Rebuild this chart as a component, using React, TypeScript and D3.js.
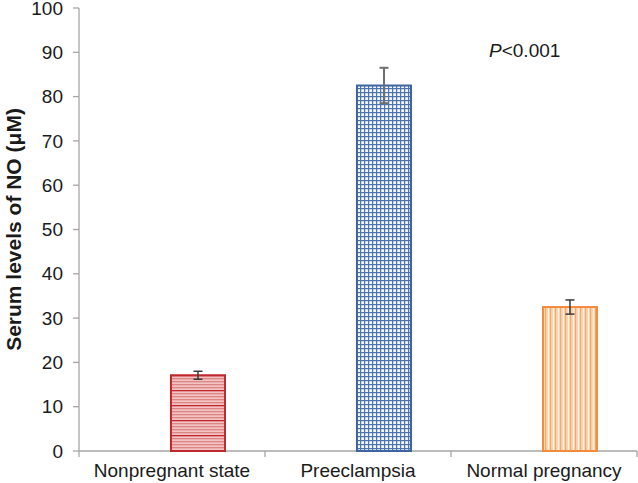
import React from "react";
import * as d3 from "d3";

const categories = ["Nonpregnant state", "Preeclampsia", "Normal pregnancy"];
const values = [17.1, 82.5, 32.5];
const errors = [0.9, 4.0, 1.6];
const yTicks = [0, 10, 20, 30, 40, 50, 60, 70, 80, 90, 100];

const width = 638;
const height = 483;
const left = 79;
const right = 637;
const top = 8;
const bottom = 451;

const fills = ["url(#pRed)", "url(#pBlue)", "url(#pOrange)"];
const strokes = ["#c0282d", "#3d64a0", "#f28c3c"];

const App = () => {
  const x = d3.scaleBand().domain(categories).range([left, right]);
  // bars sit in the second slot of each category (excel-like offset)
  const inner = d3
    .scaleBand()
    .domain(["empty", "value"])
    .range([0, x.bandwidth()])
    .paddingOuter(0.79);
  const y = d3.scaleLinear().domain([0, 100]).range([bottom, top]);
  const barW = 54;

  return (
    <svg width={width} height={height} style={{ display: "block", position: "absolute", left: 0, top: 0 }}
      fontFamily="'Liberation Sans', Arial, sans-serif">
      <defs>
        <pattern id="pRed" width="6" height="15" patternUnits="userSpaceOnUse">
          <rect width="6" height="15" fill="#f3c2c2" />
          {[0, 3, 6, 9, 12].map((d, i) => (
            <rect key={i} x="0" y={d} width="6" height="1.3" fill={i === 0 ? "#c0282d" : "#dc8585"} />
          ))}
        </pattern>
        <pattern id="pBlue" width="4" height="4" patternUnits="userSpaceOnUse">
          <rect width="4" height="4" fill="#f4f7fc" />
          <rect x="0" y="0" width="4" height="1.2" fill="#4d74ae" />
          <rect x="0" y="0" width="1.2" height="4" fill="#4d74ae" />
        </pattern>
        <pattern id="pOrange" width="5" height="6" patternUnits="userSpaceOnUse">
          <rect width="5" height="6" fill="#fcd7b6" />
          <rect x="0" y="0" width="1.2" height="6" fill="#f5a86c" />
          <rect x="3" y="0" width="1" height="6" fill="#fff3e8" />
        </pattern>
      </defs>

      {/* y axis */}
      <line x1={left} x2={left} y1={y(100)} y2={y(0)} stroke="#a6a6a6" strokeWidth={1.3} />
      {yTicks.map((t) => (
        <g key={t}>
          <line x1={left - 6} x2={left} y1={y(t)} y2={y(t)} stroke="#a6a6a6" strokeWidth={1.3} />
          <text x={left - 16} y={y(t)} dy="0.35em" textAnchor="end" fontSize={19} fill="#1a1a1a">
            {t}
          </text>
        </g>
      ))}

      {/* x axis */}
      <line x1={left} x2={right} y1={y(0)} y2={y(0)} stroke="#a6a6a6" strokeWidth={1.3} />
      {[...categories.map((c) => x(c)!), right].map((px, i) => (
        <line key={i} x1={px} x2={px} y1={y(0)} y2={y(0) + 6} stroke="#a6a6a6" strokeWidth={1.3} />
      ))}
      {categories.map((c) => (
        <text key={c} x={x(c)! + x.bandwidth() / 2} y={477} textAnchor="middle" fontSize={19} fill="#1a1a1a">
          {c}
        </text>
      ))}

      {/* bars */}
      {categories.map((c, i) => {
        const cx = x(c)! + inner("value")! + inner.bandwidth() / 2;
        return (
          <g key={c}>
            <rect
              x={cx - barW / 2}
              y={y(values[i])}
              width={barW}
              height={y(0) - y(values[i])}
              fill={fills[i]}
              stroke={strokes[i]}
              strokeWidth={2}
            />
            <line x1={cx} x2={cx} y1={y(values[i] + errors[i])} y2={y(values[i] - errors[i])}
              stroke={i === 1 ? "#6f6f6f" : "#3a3a3a"} strokeWidth={i === 1 ? 2 : 1.5} />
            {[values[i] + errors[i], values[i] - errors[i]].map((v, k) => (
              <line key={k} x1={cx - 4.5} x2={cx + 4.5} y1={y(v)} y2={y(v)}
                stroke={i === 1 ? "#6f6f6f" : "#3a3a3a"} strokeWidth={i === 1 ? 2 : 1.5} />
            ))}
          </g>
        );
      })}

      {/* y axis title */}
      <text
        transform={`translate(21, ${(y(0) + y(100)) / 2}) rotate(-90)`}
        textAnchor="middle"
        fontSize={21}
        fontWeight="bold"
        fill="#1a1a1a"
      >
        Serum levels of NO (μM)
      </text>

      <text x={489} y={57} fontSize={19} fill="#1a1a1a">
        <tspan fontStyle="italic">P</tspan>&lt;0.001
      </text>
    </svg>
  );
};

export default App;
